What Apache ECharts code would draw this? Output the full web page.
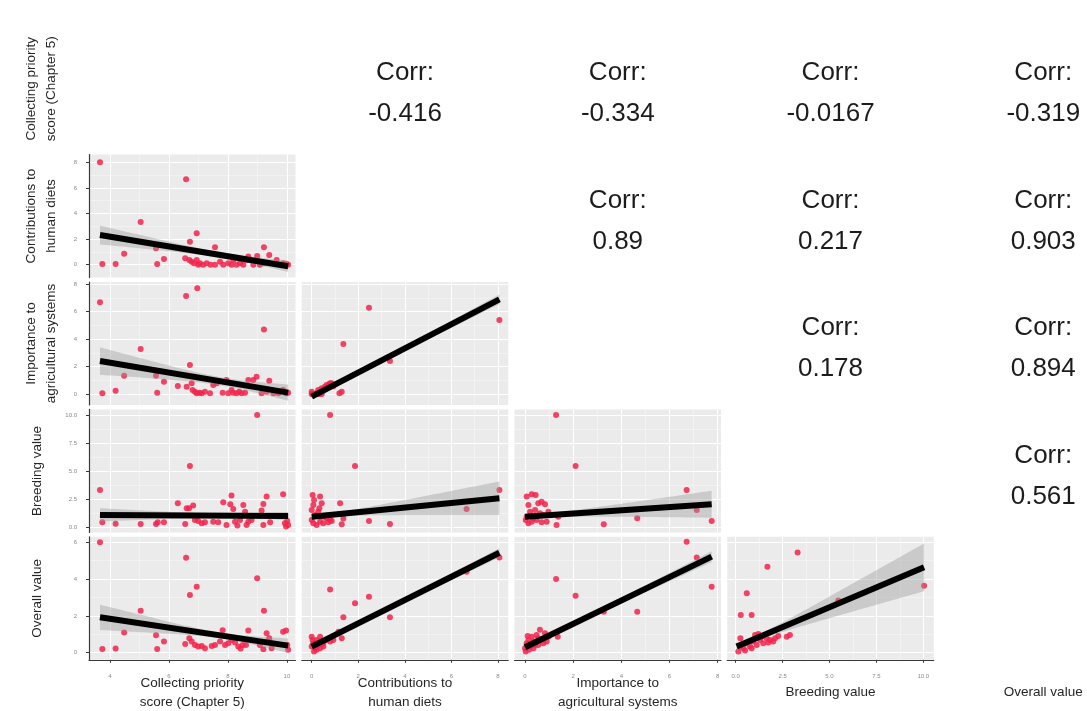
<!DOCTYPE html>
<html>
<head>
<meta charset="utf-8">
<title>Pairs plot of crop value scores</title>
<script src="https://cdn.jsdelivr.net/npm/echarts@6/dist/echarts.min.js"></script>
<style>
  html, body { margin: 0; padding: 0; background: #ffffff; }
  #chart { width: 1087px; height: 711px; }
</style>
</head>
<body>
<div id="chart"></div>
<script>
// ---- Variables shown on the diagonal of the matrix ----
const varLabels = [
  'Collecting priority\nscore (Chapter 5)',
  'Contributions to\nhuman diets',
  'Importance to\nagricultural systems',
  'Breeding value',
  'Overall value'
];

// ---- Axis limits and breaks (x per column, y per row) ----
const xLimits = [[3.288, 10.29], [-0.427, 8.44], [-0.436, 8.137], [-0.45, 10.557]];
const yLimits = [null, [-1.01, 8.6], [-0.8, 8.15], [-0.46, 10.5], [-0.39, 6.3]];
const xBreaks = [[4, 6, 8, 10], [0, 2, 4, 6, 8], [0, 2, 4, 6, 8], [0, 2.5, 5, 7.5, 10]];
const xMinorBreaks = [[5, 7, 9], [1, 3, 5, 7], [1, 3, 5, 7], [1.25, 3.75, 6.25, 8.75]];
const yBreaks = [null, [0, 2, 4, 6, 8], [0, 2, 4, 6, 8], [0, 2.5, 5, 7.5, 10], [0, 2, 4, 6]];
const yMinorBreaks = [null, [1, 3, 5, 7], [1, 3, 5, 7], [1.25, 3.75, 6.25, 8.75], [1, 3, 5]];

// ---- Correlations (upper triangle), row by row ----
const corrText = [
  [null, '-0.416', '-0.334', '-0.0167', '-0.319'],
  [null, null, '0.89', '0.217', '0.903'],
  [null, null, null, '0.178', '0.894'],
  [null, null, null, null, '0.561']
];

// ---- Scatter data for the lower triangle: [x, y] ----
const diets_priority = [[3.66,8.0],[3.74,0.05],[4.19,0.05],[4.48,0.86],[5.04,3.33],[5.56,1.28],[5.60,0.05],[5.83,0.45],[6.55,0.5],[6.58,6.67],[6.69,0.37],[6.71,1.8],[6.77,0.23],[6.85,0.11],[6.94,2.45],[6.94,0.37],[6.99,0],[7.05,0.11],[7.16,0],[7.28,0.11],[7.41,0],[7.56,0],[7.56,1.36],[7.73,0.23],[7.84,0],[8.01,0.11],[8.12,0],[8.18,0.37],[8.29,0],[8.41,0.11],[8.52,0],[8.63,0.37],[8.69,0.63],[8.86,0],[8.99,0.68],[9.08,0],[9.20,0.11],[9.22,1.36],[9.40,0.76],[9.65,0.37],[9.87,0.11],[9.99,0.05],[10.04,0]];
const agri_priority = [[3.66,6.67],[3.74,0.05],[4.19,0.24],[4.48,1.33],[5.04,3.27],[5.56,1.33],[5.60,0.1],[5.83,0.9],[6.30,0.58],[6.58,7.13],[6.60,0.53],[6.71,2.11],[6.77,0.78],[6.80,0.29],[6.88,0.17],[6.94,0.05],[6.96,7.69],[7.03,0.1],[7.11,0.05],[7.22,0.17],[7.39,0.05],[7.50,0.66],[7.62,0.78],[7.82,0.1],[7.95,1.02],[8.01,0.05],[8.12,0.29],[8.18,0.1],[8.29,0.05],[8.38,0.17],[8.46,0.05],[8.58,0.1],[8.69,1.02],[8.86,1.02],[8.97,1.26],[9.14,0.05],[9.22,4.70],[9.31,0.17],[9.40,0.97],[9.54,0.05],[9.71,0.05],[9.87,0.29],[9.97,0.05],[10.04,0.1]];
const breeding_priority = [[3.66,3.32],[3.74,0.44],[4.19,0.32],[5.04,0.29],[5.56,0.29],[5.62,0.44],[5.83,0.44],[6.30,2.14],[6.55,0.29],[6.60,1.69],[6.68,1.69],[6.71,5.46],[6.82,1.94],[6.88,0.65],[6.99,0.56],[7.11,0.35],[7.22,0.44],[7.50,0.5],[7.67,0.44],[7.84,2.22],[7.95,0.2],[8.08,2.04],[8.12,2.82],[8.18,1.63],[8.24,0.5],[8.32,0.15],[8.41,0.65],[8.52,1.98],[8.58,1.39],[8.63,0.21],[8.69,0.5],[8.80,0.65],[8.99,10.0],[9.14,1.49],[9.20,0.21],[9.20,2.07],[9.31,2.74],[9.43,0.44],[9.87,2.95],[9.93,0.35],[9.97,0.06],[10.01,0.56],[10.04,0.21]];
const overall_priority = [[3.66,6.0],[3.74,0.2],[4.19,0.23],[4.48,1.09],[5.04,2.28],[5.56,0.95],[5.60,0.2],[5.83,0.6],[6.55,0.47],[6.58,5.16],[6.69,0.78],[6.71,3.14],[6.77,0.6],[6.88,0.42],[6.94,3.59],[6.99,0.33],[7.11,0.36],[7.22,0.24],[7.45,0.36],[7.56,0.42],[7.73,0.6],[7.82,1.22],[7.90,0.42],[8.01,0.51],[8.12,0.69],[8.24,0.55],[8.35,0.33],[8.43,0.22],[8.50,0.42],[8.61,0.42],[8.69,1.2],[8.99,4.04],[9.08,0.42],[9.20,0.18],[9.22,2.28],[9.31,1.05],[9.40,0.78],[9.48,0.24],[9.87,1.14],[9.97,1.2],[10.01,0.42],[10.04,0.15]];
const agri_diets = [[0,0.17],[0.07,0],[0.14,0],[0.21,0.05],[0.28,0.29],[0.36,0.1],[0.43,0.41],[0.5,0.29],[0.57,0.53],[0.64,0.66],[0.76,0.73],[0.86,0.78],[0.04,0],[0.1,0],[0.21,0],[0.33,0],[0,0],[0.43,0],[0.93,0.56],[0.79,0.78],[1.29,0.17],[1.19,0.05],[1.36,3.64],[2.46,6.28],[3.36,2.4],[8.06,5.38]];
const breeding_diets = [[0.79,10.0],[1.86,5.46],[8.06,3.32],[6.65,1.63],[1.22,2.14],[1.29,0.26],[1.36,0.78],[2.46,0.56],[3.36,0.29],[0.04,2.88],[0.36,2.73],[0.07,1.98],[0.43,2.13],[0.14,1.09],[0.28,1.39],[0.5,0.94],[0.64,0.8],[0.79,0.65],[0,0.65],[0.07,0.35],[0.21,0.2],[0.36,0.5],[0.5,0.35],[0.71,0.44],[0.86,0.56],[0.1,2.43],[0.33,1.69],[0,1.54]];
const overall_diets = [[8.06,5.18],[6.65,4.4],[0.79,3.44],[1.86,2.68],[2.46,3.04],[1.36,1.92],[3.36,1.92],[1.29,0.78],[1.15,1.14],[0,0.87],[0.07,0.51],[0.14,0.24],[0.21,0.69],[0.28,0.42],[0.36,0.87],[0.43,0.6],[0.5,0.51],[0.64,0.69],[0.79,0.6],[0.93,0.69],[0,0.33],[0.1,0.06],[0.21,0.15],[0.36,0.24],[0.5,0.33],[0.04,0.69]];
const breeding_agri = [[1.29,10.0],[2.1,5.46],[6.71,3.32],[7.13,1.54],[7.75,0.56],[4.66,0.8],[3.27,0.26],[1.31,0.2],[1.38,0.94],[0.07,2.73],[0.28,2.94],[0.44,2.88],[0.14,1.98],[0.55,2.13],[0.69,2.28],[0.83,2.04],[0.21,1.39],[0.42,1.54],[0.62,1.24],[0.76,1.09],[0.97,1.39],[0.03,0.65],[0.14,0.35],[0.28,0.5],[0.48,0.65],[0.69,0.44],[0.9,0.5],[0.07,0.94],[0.35,0.8]];
const overall_agri = [[6.71,6.03],[7.13,5.18],[7.75,3.59],[4.66,2.23],[1.29,4.0],[2.1,3.1],[3.27,2.23],[1.36,0.87],[0,0.24],[0.07,0.51],[0.14,0.69],[0.21,0.33],[0.28,0.87],[0.35,0.6],[0.42,0.42],[0.48,0.96],[0.55,0.78],[0.62,1.24],[0.69,0.69],[0.83,1.05],[0.97,0.87],[0.03,0.06],[0.17,0.15],[0.35,0.24],[0.55,0.42],[0.76,0.51],[0.9,0.6],[0.11,0.91]];
const overall_breeding = [[3.3,5.45],[1.69,4.67],[0.59,3.23],[0.27,2.05],[0.85,2.05],[10.04,3.64],[5.47,2.83],[0.25,0.78],[1.03,0.96],[1.21,1.02],[1.39,0.87],[1.65,0.78],[1.83,0.69],[2.1,0.78],[2.27,0.91],[2.72,0.87],[2.89,0.96],[2.0,0.6],[1.47,0.51],[1.12,0.42],[0.76,0.33],[0.41,0.24],[0.14,0.06],[0.59,0.51],[0.94,0.6],[1.3,0.69],[1.74,0.55],[0.23,0.33],[0.5,0.11],[0.85,0.24]];

// ---- Linear fits: [x start, y start, x end, y end, x at narrowest band, half-width there, half-width at far end] ----
const fit_diets_priority    = [3.66, 2.32, 10.04, -0.12, 7.8, 0.22, 0.74];
const fit_agri_priority     = [3.66, 2.40, 10.04, 0.10, 7.8, 0.30, 1.0];
const fit_breeding_priority = [3.66, 1.10, 10.04, 1.00, 7.8, 0.20, 0.6];
const fit_overall_priority  = [3.66, 1.92, 10.04, 0.38, 7.8, 0.15, 0.69];
const fit_agri_diets        = [0, -0.19, 8.06, 6.89, 0.9, 0.10, 0.35];
const fit_breeding_diets    = [0, 0.94, 8.06, 2.58, 0.9, 0.20, 1.5];
const fit_overall_diets     = [0, 0.33, 8.06, 5.43, 0.9, 0.08, 0.25];
const fit_breeding_agri     = [0, 0.94, 7.75, 2.05, 0.8, 0.20, 1.2];
const fit_overall_agri      = [0, 0.29, 7.75, 5.22, 0.8, 0.08, 0.3];
const fit_overall_breeding  = [0.05, 0.33, 10.04, 4.64, 1.0, 0.15, 1.3];

const panels = [
  { row: 1, col: 0, points: diets_priority, fit: fit_diets_priority },
  { row: 2, col: 0, points: agri_priority, fit: fit_agri_priority },
  { row: 2, col: 1, points: agri_diets, fit: fit_agri_diets },
  { row: 3, col: 0, points: breeding_priority, fit: fit_breeding_priority },
  { row: 3, col: 1, points: breeding_diets, fit: fit_breeding_diets },
  { row: 3, col: 2, points: breeding_agri, fit: fit_breeding_agri },
  { row: 4, col: 0, points: overall_priority, fit: fit_overall_priority },
  { row: 4, col: 1, points: overall_diets, fit: fit_overall_diets },
  { row: 4, col: 2, points: overall_agri, fit: fit_overall_agri },
  { row: 4, col: 3, points: overall_breeding, fit: fit_overall_breeding }
];

// ---- Layout of the 5 x 5 panel matrix ----
const LAYOUT = { left0: 89, dx: 212.75, top0: 27.2, dy: 127.4, w: 206.5, h: 123 };
const FONT = '"Liberation Sans", Arial, Helvetica, sans-serif';
const AXIS_DARK = '#3a3a3a';
const TICK_TEXT = '#8a8a8a';

function panelLeft(c) { return LAYOUT.left0 + LAYOUT.dx * c; }
function panelTop(r) { return LAYOUT.top0 + LAYOUT.dy * r; }
function fmtBreak(isTenScale) { return v => isTenScale ? v.toFixed(1) : String(v); }

// Confidence band polygon around a fitted line (in data units)
function bandPolygon(fit) {
  const [x0, y0, x1, y1, xm, hm, hEnd] = fit;
  const dmax = Math.max(Math.abs(x0 - xm), Math.abs(x1 - xm));
  const k = (hEnd * hEnd - hm * hm) / (dmax * dmax);
  const n = 60, upper = [], lower = [];
  for (let i = 0; i <= n; i++) {
    const x = x0 + (x1 - x0) * i / n;
    const y = y0 + (y1 - y0) * (x - x0) / (x1 - x0);
    const hw = Math.sqrt(hm * hm + k * (x - xm) * (x - xm));
    upper.push([x, y + hw]);
    lower.push([x, y - hw]);
  }
  return upper.concat(lower.reverse());
}

const grids = [], xAxes = [], yAxes = [], series = [];

panels.forEach((p, i) => {
  const { row, col } = p;
  const showX = row === 4;
  const showY = col === 0;
  grids.push({
    left: panelLeft(col), top: panelTop(row), width: LAYOUT.w, height: LAYOUT.h,
    show: true, backgroundColor: '#ebebeb', borderWidth: 0, containLabel: false
  });
  // major x axis
  xAxes.push({
    gridIndex: i, type: 'value', min: xLimits[col][0], max: xLimits[col][1],
    axisLine: { show: showX, onZero: false, lineStyle: { color: AXIS_DARK, width: 1.2 } },
    axisTick: { show: showX, customValues: xBreaks[col], length: 3, lineStyle: { color: AXIS_DARK, width: 1 } },
    axisLabel: { show: showX, customValues: xBreaks[col], formatter: fmtBreak(col === 3),
      fontSize: 6, color: TICK_TEXT, margin: 14, fontFamily: FONT },
    splitLine: { show: true, lineStyle: { color: '#ffffff', width: 1 } }
  });
  // minor x axis (grid lines only)
  xAxes.push({
    gridIndex: i, type: 'value', min: xLimits[col][0], max: xLimits[col][1], position: 'bottom',
    axisLine: { show: false, onZero: false }, axisTick: { show: false, customValues: xMinorBreaks[col] },
    axisLabel: { show: false, customValues: xMinorBreaks[col] },
    splitLine: { show: true, lineStyle: { color: '#f6f6f6', width: 0.6 } }
  });
  // major y axis
  yAxes.push({
    gridIndex: i, type: 'value', min: yLimits[row][0], max: yLimits[row][1],
    axisLine: { show: showY, onZero: false, lineStyle: { color: AXIS_DARK, width: 1.2 } },
    axisTick: { show: showY, customValues: yBreaks[row], length: 3, lineStyle: { color: AXIS_DARK, width: 1 } },
    axisLabel: { show: showY, customValues: yBreaks[row], formatter: fmtBreak(row === 3),
      fontSize: 6, color: TICK_TEXT, margin: 12, fontFamily: FONT },
    splitLine: { show: true, lineStyle: { color: '#ffffff', width: 1 } }
  });
  // minor y axis (grid lines only)
  yAxes.push({
    gridIndex: i, type: 'value', min: yLimits[row][0], max: yLimits[row][1], position: 'left',
    axisLine: { show: false, onZero: false }, axisTick: { show: false, customValues: yMinorBreaks[row] },
    axisLabel: { show: false, customValues: yMinorBreaks[row] },
    splitLine: { show: true, lineStyle: { color: '#f6f6f6', width: 0.6 } }
  });

  const xi = 2 * i, yi = 2 * i;
  series.push({
    type: 'scatter', xAxisIndex: xi, yAxisIndex: yi, data: p.points,
    symbol: 'circle', symbolSize: 6, silent: true, z: 2,
    itemStyle: { color: '#f3234b', opacity: 0.85 }
  });
  const poly = bandPolygon(p.fit);
  series.push({
    type: 'custom', xAxisIndex: xi, yAxisIndex: yi, data: [[p.fit[0], p.fit[1]]],
    silent: true, z: 3, clip: true,
    renderItem: (params, api) => ({
      type: 'polygon',
      shape: { points: poly.map(pt => api.coord(pt)) },
      style: { fill: 'rgba(153,153,153,0.4)' }
    })
  });
  series.push({
    type: 'line', xAxisIndex: xi, yAxisIndex: yi,
    data: [[p.fit[0], p.fit[1]], [p.fit[2], p.fit[3]]],
    symbol: 'none', silent: true, z: 4,
    lineStyle: { color: '#000000', width: 6, cap: 'butt' }
  });
});

// ---- Text: correlations, row labels and column labels ----
const graphics = [];
corrText.forEach((rowVals, r) => {
  rowVals.forEach((val, c) => {
    if (val === null) return;
    graphics.push({
      type: 'text', silent: true,
      x: panelLeft(c) + LAYOUT.w / 2, y: panelTop(r) + LAYOUT.h / 2 + 5,
      style: {
        text: 'Corr:\n' + val, fontSize: 26, fontFamily: FONT, fill: '#1c1c1c',
        align: 'center', verticalAlign: 'middle', textAlign: 'center', textVerticalAlign: 'middle',
        lineHeight: 41
      }
    });
  });
});
varLabels.forEach((label, k) => {
  const twoLines = label.indexOf('\n') >= 0;
  // row label on the left, reading upwards
  graphics.push({
    type: 'text', silent: true,
    x: twoLines ? 41.5 : 37, y: panelTop(k) + LAYOUT.h / 2,
    rotation: Math.PI / 2,
    style: {
      text: label, fontSize: 13.5, fontFamily: FONT, fill: '#262626',
      align: 'center', verticalAlign: 'middle', textAlign: 'center', textVerticalAlign: 'middle',
      lineHeight: 19.5
    }
  });
  // column label at the bottom
  graphics.push({
    type: 'text', silent: true,
    x: panelLeft(k) + LAYOUT.w / 2, y: 692.5,
    style: {
      text: label, fontSize: 13.5, fontFamily: FONT, fill: '#262626',
      align: 'center', verticalAlign: 'middle', textAlign: 'center', textVerticalAlign: 'middle',
      lineHeight: 19
    }
  });
});

const chart = echarts.init(document.getElementById('chart'), null, { renderer: 'canvas' });
chart.setOption({
  backgroundColor: '#ffffff',
  animation: false,
  grid: grids,
  xAxis: xAxes,
  yAxis: yAxes,
  series: series,
  graphic: graphics
});
</script>
</body>
</html>
